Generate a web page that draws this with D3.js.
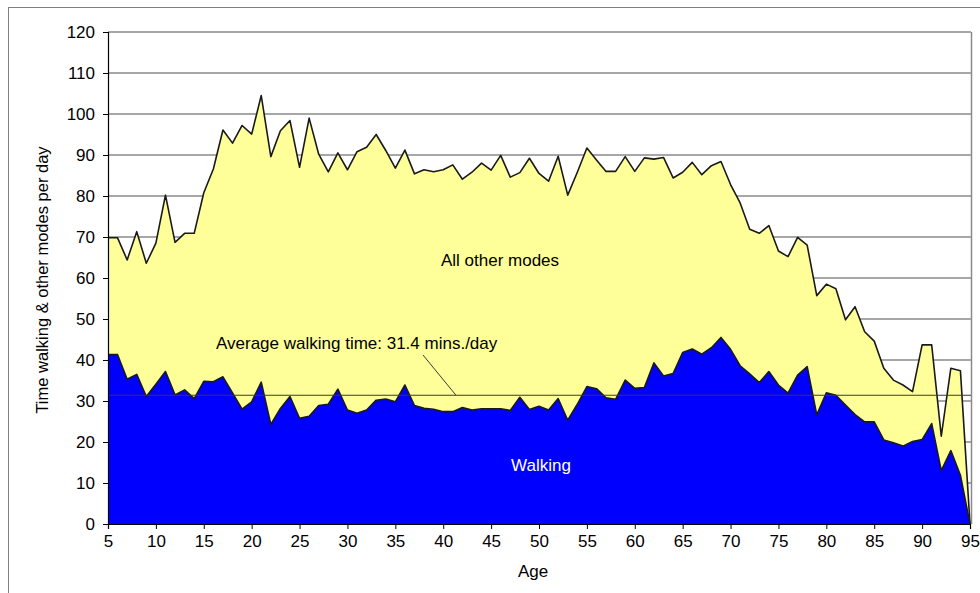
<!DOCTYPE html>
<html>
<head>
<meta charset="utf-8">
<script src="https://cdn.jsdelivr.net/npm/d3@7"></script>
<style>
  body { margin: 0; background: #fff; }
  text { font-family: "Liberation Sans", Arial, sans-serif; }
</style>
</head>
<body>
<div id="chart"></div>
<script>
// Ages on the x axis
const ages = [5, 6, 7, 8, 9, 10, 11, 12, 13, 14, 15, 16, 17, 18, 19, 20, 21, 22, 23, 24,
    25, 26, 27, 28, 29, 30, 31, 32, 33, 34, 35, 36, 37, 38, 39, 40, 41, 42, 43, 44,
    45, 46, 47, 48, 49, 50, 51, 52, 53, 54, 55, 56, 57, 58, 59, 60, 61, 62, 63, 64,
    65, 66, 67, 68, 69, 70, 71, 72, 73, 74, 75, 76, 77, 78, 79, 80, 81, 82, 83, 84,
    85, 86, 87, 88, 89, 90, 91, 92, 93, 94, 95];

// Minutes per day spent walking
const walking = [41.3, 41.3, 35.3, 36.5, 31.1, 34.1, 37.2, 31.5, 32.7, 30.6,
    34.8, 34.7, 35.9, 32.0, 28.0, 29.8, 34.6, 24.3, 28.2, 31.1,
    25.8, 26.3, 28.9, 29.2, 32.9, 27.8, 27.0, 27.8, 30.2, 30.5,
    29.8, 33.9, 28.9, 28.2, 28.0, 27.4, 27.4, 28.4, 27.8, 28.1,
    28.1, 28.1, 27.7, 30.9, 27.9, 28.7, 27.8, 30.6, 25.3, 29.2,
    33.5, 33.0, 30.8, 30.4, 35.1, 33.1, 33.3, 39.3, 36.1, 36.7,
    41.8, 42.7, 41.4, 43.0, 45.5, 42.6, 38.6, 36.6, 34.5, 37.2,
    33.9, 31.9, 36.3, 38.4, 26.6, 32.0, 31.4, 29.0, 26.7, 24.9,
    24.9, 20.5, 19.8, 19.0, 20.1, 20.6, 24.5, 13.0, 17.9, 11.9, 0];

// Total minutes per day, walking + all other modes
const totalTime = [69.8, 69.8, 64.4, 71.3, 63.6, 68.5, 80.2, 68.7, 70.9, 70.9,
    80.8, 86.6, 96.1, 92.9, 97.2, 95.1, 104.5, 89.6, 95.9, 98.4,
    87.0, 99.0, 90.2, 85.9, 90.5, 86.4, 90.8, 91.9, 95.0, 91.1,
    86.8, 91.2, 85.4, 86.4, 85.9, 86.4, 87.6, 84.1, 85.8, 88.0,
    86.3, 89.9, 84.6, 85.7, 89.2, 85.5, 83.6, 89.7, 80.2, 85.8,
    91.7, 88.8, 86.0, 86.0, 89.6, 86.0, 89.3, 89.0, 89.4, 84.4,
    85.8, 88.2, 85.2, 87.4, 88.4, 82.8, 78.3, 71.9, 70.9, 72.8,
    66.6, 65.2, 69.9, 68.0, 55.7, 58.5, 57.4, 49.8, 53.0, 46.9,
    44.6, 38.0, 35.1, 33.9, 32.3, 43.7, 43.7, 21.4, 38.0, 37.4, 0];

const averageWalking = 31.4;
const xTicks = [5, 10, 15, 20, 25, 30, 35, 40, 45, 50, 55, 60, 65, 70, 75, 80, 85, 90, 95];
const yTicks = [0, 10, 20, 30, 40, 50, 60, 70, 80, 90, 100, 110, 120];

// Dimensions and layout
const width = 980;
const height = 593;
const margin = { top: 32, right: 9, bottom: 69, left: 108 };

const svg = d3.select("#chart")
    .append("svg")
    .attr("width", width)
    .attr("height", height);

// Outer chart frame (only left and top edges fall inside the window)
svg.append("rect")
    .attr("x", 8.5)
    .attr("y", 7.5)
    .attr("width", 1000)
    .attr("height", 700)
    .style("fill", "none")
    .style("stroke", "#7f7f7f")
    .style("stroke-width", 1);

const x = d3.scaleLinear()
    .domain([5, 95])
    .range([margin.left, width - margin.right - 1]);

const y = d3.scaleLinear()
    .domain([0, 120])
    .range([height - margin.bottom, margin.top]);

const rows = ages.map((a, i) => ({ age: a, walk: walking[i], total: totalTime[i] }));

// Gridlines
svg.append("g")
    .selectAll("line")
    .data(yTicks.filter(d => d > 0))
    .enter().append("line")
    .attr("x1", x(5))
    .attr("x2", x(95) + 1)
    .attr("y1", d => y(d))
    .attr("y2", d => y(d))
    .style("stroke", "#8a8a8a")
    .style("stroke-width", 1.5);

// Right edge of plot area
svg.append("line")
    .attr("x1", x(95) + 1.5)
    .attr("x2", x(95) + 1.5)
    .attr("y1", y(120))
    .attr("y2", y(0))
    .style("stroke", "#8a8a8a")
    .style("stroke-width", 1.5);

// Total area (all other modes on top of walking)
svg.append("path")
    .datum(rows)
    .attr("d", d3.area()
        .x(d => x(d.age))
        .y0(y(0))
        .y1(d => y(d.total)))
    .style("fill", "#ffff99");

svg.append("path")
    .datum(rows)
    .attr("d", d3.line()
        .x(d => x(d.age))
        .y(d => y(d.total)))
    .style("fill", "none")
    .style("stroke", "#1a1a1a")
    .style("stroke-width", 1.6)
    .style("stroke-linejoin", "round");

// Walking area
svg.append("path")
    .datum(rows)
    .attr("d", d3.area()
        .x(d => x(d.age))
        .y0(y(0))
        .y1(d => y(d.walk)))
    .style("fill", "#0000ff");

svg.append("path")
    .datum(rows)
    .attr("d", d3.line()
        .x(d => x(d.age))
        .y(d => y(d.walk)))
    .style("fill", "none")
    .style("stroke", "#1a1a1a")
    .style("stroke-width", 1.6)
    .style("stroke-linejoin", "round");

// Average walking line
svg.append("line")
    .attr("x1", x(5))
    .attr("x2", x(95) + 1)
    .attr("y1", y(averageWalking))
    .attr("y2", y(averageWalking))
    .style("stroke", "#3a3a3a")
    .style("stroke-width", 1);

// Axes
const yAxis = svg.append("g")
    .attr("transform", `translate(${x(5)},0)`)
    .call(d3.axisLeft(y).tickValues(yTicks).tickSize(5).tickPadding(8));

const xAxis = svg.append("g")
    .attr("transform", `translate(0,${y(0)})`)
    .call(d3.axisBottom(x).tickValues(xTicks).tickSize(5).tickPadding(6));

[yAxis, xAxis].forEach(ax => {
    ax.select(".domain").style("stroke", "#000").style("stroke-width", 1.2);
    ax.selectAll(".tick line").style("stroke", "#000");
    ax.selectAll("text")
        .style("font-size", "17px")
        .style("fill", "#000")
        .style("font-family", "'Liberation Sans', Arial, sans-serif");
});

// Axis titles
svg.append("text")
    .attr("x", 533)
    .attr("y", 577)
    .attr("text-anchor", "middle")
    .style("font-size", "17px")
    .text("Age");

svg.append("text")
    .attr("transform", `translate(48, 280) rotate(-90)`)
    .attr("text-anchor", "middle")
    .style("font-size", "16.5px")
    .text("Time walking & other modes per day");

// Annotations
svg.append("text")
    .attr("x", 500)
    .attr("y", 260)
    .attr("text-anchor", "middle")
    .attr("dy", "0.35em")
    .style("font-size", "17px")
    .text("All other modes");

svg.append("text")
    .attr("x", 216)
    .attr("y", 343)
    .attr("dy", "0.35em")
    .style("font-size", "17px")
    .text("Average walking time: 31.4 mins./day");

svg.append("line")
    .attr("x1", 423)
    .attr("y1", 355)
    .attr("x2", 456)
    .attr("y2", y(averageWalking))
    .style("stroke", "#3a3a3a")
    .style("stroke-width", 1);

svg.append("text")
    .attr("x", 541)
    .attr("y", 465)
    .attr("text-anchor", "middle")
    .attr("dy", "0.35em")
    .style("font-size", "17px")
    .style("fill", "#fff")
    .text("Walking");
</script>
</body>
</html>
